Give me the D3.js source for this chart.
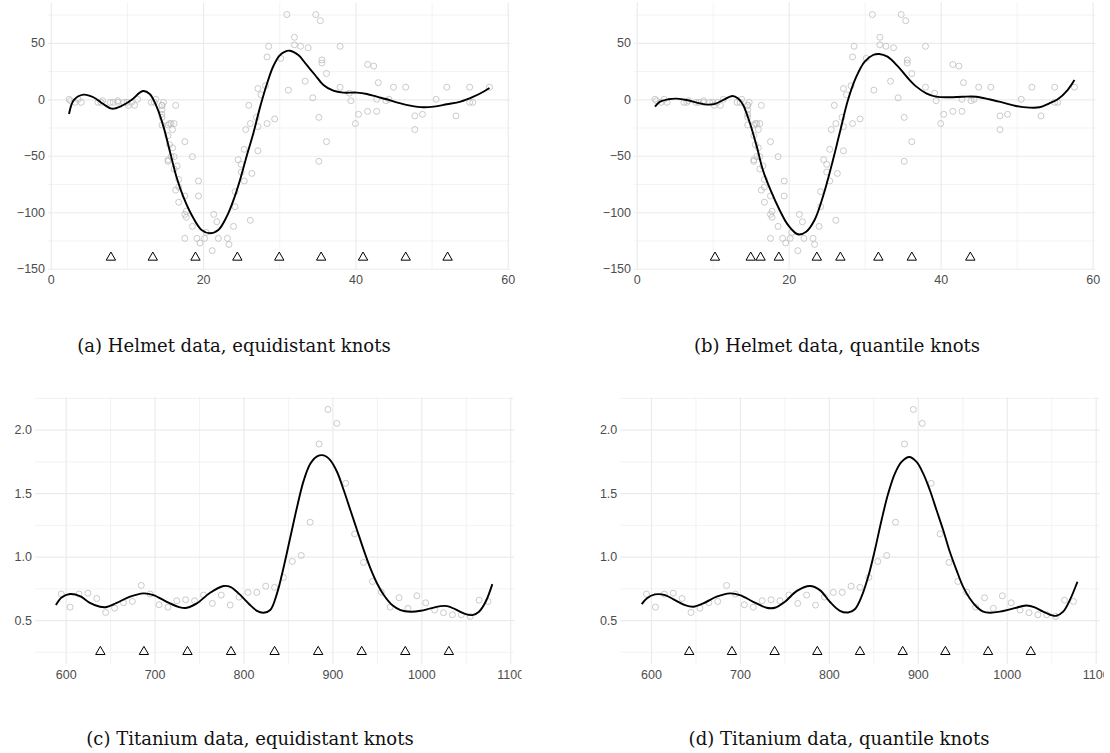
<!DOCTYPE html>
<html>
<head>
<meta charset="utf-8">
<script src="https://cdn.jsdelivr.net/npm/d3@7"></script>
<style>
  body { margin: 0; background: #fff; }
  svg { display: block; }
  .tick text { font-family: "Liberation Sans", Arial, sans-serif; fill: #4d4d4d; }
  .caption { font-family: "DejaVu Serif", serif; fill: #111; }
</style>
</head>
<body>
<svg id="fig" width="1110" height="753"></svg>
<script>
// helmet (mcycle) data
var helmetTime = [2.4,2.6,3.2,3.6,4.0,6.2,6.6,6.8,7.8,8.2,8.8,8.8,9.6,10.0,10.2,10.6,11.0,11.4,13.2,13.6,
  13.8,14.6,14.6,14.6,14.6,14.6,14.6,14.8,15.4,15.4,15.4,15.4,15.6,15.6,15.8,15.8,16.0,16.0,16.2,16.2,
  16.2,16.4,16.4,16.6,16.8,16.8,16.8,17.6,17.6,17.6,17.6,17.8,17.8,18.6,18.6,19.2,19.4,19.4,19.6,20.2,
  20.4,21.2,21.4,21.8,22.0,23.2,23.4,24.0,24.2,24.2,24.6,25.0,25.0,25.4,25.4,25.6,26.0,26.2,26.2,26.4,
  27.0,27.2,27.2,27.2,27.6,28.2,28.4,28.4,28.6,29.4,30.2,31.0,31.2,32.0,32.0,32.8,33.4,33.8,34.4,34.8,
  35.2,35.2,35.4,35.6,35.6,36.2,36.2,38.0,38.0,39.2,39.4,40.0,40.4,41.6,41.6,42.4,42.8,42.8,43.0,44.0,
  44.4,45.0,46.6,47.8,47.8,48.8,50.6,52.0,53.2,55.0,55.0,55.4,57.6];
var helmetAccel = [0.0,-1.3,-2.7,0.0,-2.7,-2.7,-2.7,-1.3,-2.7,-2.7,-1.3,-2.7,-2.7,-2.7,-5.4,-2.7,-5.4,0.0,-2.7,-2.7,
  0.0,-13.3,-5.4,-5.4,-9.3,-16.0,-22.8,-2.7,-22.8,-32.1,-53.5,-54.9,-40.2,-21.5,-21.5,-50.8,-42.9,-26.8,-21.5,-50.8,
  -61.7,-5.4,-80.4,-59.0,-71.0,-91.1,-77.7,-37.5,-85.6,-123.1,-101.9,-99.1,-104.4,-112.5,-50.8,-123.1,-85.6,-72.3,-127.2,-123.1,
  -117.9,-134.0,-101.9,-108.4,-123.1,-123.1,-128.5,-112.5,-95.1,-81.8,-53.5,-64.4,-57.6,-72.3,-44.3,-26.8,-5.4,-107.1,-21.5,-65.6,
  -16.0,-45.6,-24.2,9.5,4.0,12.0,-21.5,37.5,46.9,-17.4,36.2,75.0,8.1,54.9,48.2,46.9,16.0,45.6,1.3,75.0,
  -16.0,-54.9,69.6,34.8,32.1,-37.5,22.8,46.9,10.7,5.4,-1.3,-21.5,-13.3,30.8,-10.7,29.4,0.0,-10.7,14.7,-1.3,
  0.0,10.7,10.7,-26.8,-14.7,-13.3,0.0,10.7,-14.7,-2.7,10.7,-2.7,10.7];

// titanium data
var titanTemp = [595,605,615,625,635,645,655,665,675,685,695,705,715,725,735,745,755,765,775,785,
  795,805,815,825,835,845,855,865,875,885,895,905,915,925,935,945,955,965,975,985,
  995,1005,1015,1025,1035,1045,1055,1065,1075];
var titanY = [0.705,0.602,0.705,0.712,0.670,0.560,0.594,0.636,0.647,0.773,0.705,0.621,0.602,0.652,0.660,0.652,0.697,0.631,0.697,0.618,
  0.681,0.718,0.718,0.767,0.757,0.836,0.962,1.009,1.271,1.887,2.160,2.050,1.578,1.179,0.954,0.804,0.720,0.602,0.676,0.592,
  0.691,0.636,0.579,0.558,0.542,0.542,0.529,0.657,0.647];

// knot positions
var knotsA = [7.9,13.4,19.0,24.5,30.0,35.5,41.0,46.6,52.1];
var knotsB = [10.3,15.0,16.3,18.7,23.7,26.8,31.8,36.2,43.9];
var knotsC = [639,688,737,786,835,884,933,982,1031];
var knotsD = [643,691,739,787,835,883,931,979,1027];
var knotYHelmet = -140;
var knotYTitan = 0.25;

// fitted curves
var fitA = [[2.4,-13],[3.05,-0.6],[4.3,4.1],[5.6,1.8],[6.9,-4.2],[8.0,-8.3],[9.3,-5.9],[10.6,-0.6],[12.1,7.3],[13.0,4.7],
  [13.9,-6.5],[14.8,-24.2],[15.7,-47.8],[16.5,-68.5],[17.4,-86.2],[18.5,-102.4],[19.8,-115.7],[20.9,-118.6],[22.0,-115.7],[23.1,-103.9],
  [24.0,-89.1],[24.85,-71.4],[25.7,-50.8],[26.6,-30.1],[27.5,-6.5],[28.4,14],[29.2,29],[30.0,38.5],[30.7,42],[31.4,43.0],
  [32.5,39.2],[33.6,30.4],[34.7,21.5],[35.8,12.7],[37.1,7.6],[38.4,5.9],[40.2,5.9],[41.5,4.7],[42.8,2.3],[44.1,0],
  [45.4,-2.7],[47.2,-5.6],[48.9,-7.1],[50.3,-6.5],[52.0,-4.4],[53.8,-2.1],[55.5,2.3],[56.8,6.7],[57.6,10]];
var fitB = [[2.4,-6.5],[3.07,-2.1],[4.16,0],[5.26,0.6],[6.57,-0.6],[7.9,-3.0],[9.2,-4.7],[10.3,-4.1],[11.4,-0.6],[12.6,2.9],
  [13.35,0.6],[14.0,-5],[14.9,-21.2],[15.8,-41.9],[16.6,-62.6],[17.7,-81.8],[18.8,-98],[19.9,-111.2],[21.2,-119.5],[22.3,-117.2],
  [23.4,-106.8],[24.5,-86.2],[25.6,-59.6],[26.7,-30.1],[27.8,-0.6],[28.9,20],[30.0,33.3],[31.1,39.2],[31.9,40.1],[33.0,37.7],
  [34.4,28.9],[35.7,18.6],[36.8,11.2],[38.1,5.3],[39.4,2.3],[41.2,1.8],[42.9,2.3],[44.7,2.3],[46.4,0],[48.2,-3],
  [49.9,-5.9],[51.7,-7.4],[53.0,-7.1],[54.3,-3.6],[55.4,0],[56.7,8.2],[57.6,17]];
var fitC = [[589,0.618],[595.4,0.678],[604.8,0.705],[616.1,0.689],[627.3,0.636],[638.6,0.605],[646.1,0.603],[657.4,0.636],[672.4,0.684],[687.4,0.710],
  [698.7,0.697],[713.7,0.644],[728.7,0.600],[736.2,0.597],[747.5,0.631],[762.5,0.715],[777.6,0.768],[785.1,0.762],[794.5,0.710],[805.7,0.631],
  [815.1,0.573],[822.6,0.558],[830.1,0.579],[837.7,0.710],[845.3,0.920],[852.8,1.156],[860.3,1.392],[867.8,1.601],[875.3,1.733],[882.8,1.790],
  [890.3,1.798],[897.8,1.759],[905.3,1.667],[912.8,1.523],[920.3,1.365],[927.8,1.208],[935.3,1.051],[942.8,0.907],[950.3,0.788],[957.8,0.697],
  [967.2,0.618],[976.6,0.579],[987.9,0.566],[999.2,0.573],[1010.4,0.592],[1021.7,0.610],[1029.2,0.610],[1038.6,0.584],[1048.0,0.552],[1057.4,0.539],
  [1064.9,0.566],[1072.4,0.644],[1079.9,0.783]];
var fitD = [[589.6,0.626],[595.2,0.670],[604.5,0.702],[615.8,0.697],[627.0,0.657],[638.2,0.618],[647.6,0.605],[658.8,0.631],[673.8,0.684],[688.8,0.710],
  [700.0,0.697],[715.0,0.644],[730.0,0.597],[739.3,0.597],[750.6,0.644],[763.7,0.728],[778.7,0.768],[789.9,0.736],[801.1,0.644],[812.4,0.573],
  [821.7,0.560],[829.2,0.585],[836.7,0.684],[844.2,0.841],[851.7,1.051],[859.2,1.287],[866.7,1.497],[874.2,1.654],[881.7,1.746],[890.4,1.785],
  [898.6,1.746],[906.1,1.654],[913.6,1.523],[921.1,1.365],[928.6,1.208],[936.0,1.038],[943.5,0.893],[951.0,0.762],[958.5,0.670],[966.0,0.605],
  [973.5,0.566],[981.0,0.558],[992.3,0.566],[1003.5,0.584],[1014.7,0.605],[1022.2,0.615],[1031.6,0.600],[1041.0,0.566],[1050.3,0.539],[1055.9,0.534],
  [1063.4,0.566],[1070.9,0.657],[1079.5,0.802]];

// ticks
var helmetXMajor = [0,20,40,60], helmetXMinor = [10,30,50];
var helmetYMajor = [-150,-100,-50,0,50], helmetYMinor = [-125,-75,-25,25,75];
var titanXMajor = [600,700,800,900,1000,1100], titanXMinor = [650,750,850,950,1050];
var titanYMajor = [0.5,1.0,1.5,2.0], titanYMinor = [0.25,0.75,1.25,1.75,2.25];

var captions = ["(a) Helmet data, equidistant knots", "(b) Helmet data, quantile knots",
  "(c) Titanium data, equidistant knots", "(d) Titanium data, quantile knots"];

var svg = d3.select("#fig");

var panels = [
  {x0: 48, x1: 510.5, y0: 269.6, y1: 2.4, xd: [-0.36, 60.36], yd: [-150.75, 85.75], clip: [0, 0, 560, 376],
   xs: helmetTime, ys: helmetAccel, fit: fitA, knots: knotsA, ky: knotYHelmet,
   xMaj: helmetXMajor, xMin: helmetXMinor, yMaj: helmetYMajor, yMin: helmetYMinor, yfmt: d3.format("d"),
   cap: captions[0], cx: 234, cy: 352},
  {x0: 634, x1: 1095.4, y0: 269.6, y1: 2.4, xd: [-0.36, 60.36], yd: [-150.75, 85.75], clip: [560, 0, 550, 376],
   xs: helmetTime, ys: helmetAccel, fit: fitB, knots: knotsB, ky: knotYHelmet,
   xMaj: helmetXMajor, xMin: helmetXMinor, yMaj: helmetYMajor, yMin: helmetYMinor, yfmt: d3.format("d"),
   cap: captions[1], cx: 837, cy: 352},
  {x0: 35, x1: 514.2, y0: 663.9, y1: 397.3, xd: [565.5, 1104.5], yd: [0.1545, 2.2555], clip: [0, 376, 521.5, 377],
   xs: titanTemp, ys: titanY, fit: fitC, knots: knotsC, ky: knotYTitan,
   xMaj: titanXMajor, xMin: titanXMinor, yMaj: titanYMajor, yMin: titanYMinor, yfmt: d3.format(".1f"),
   cap: captions[2], cx: 250, cy: 745},
  {x0: 620.3, x1: 1099.7, y0: 663.9, y1: 397.3, xd: [565.5, 1104.5], yd: [0.1545, 2.2555], clip: [560, 376, 544, 377],
   xs: titanTemp, ys: titanY, fit: fitD, knots: knotsD, ky: knotYTitan,
   xMaj: titanXMajor, xMin: titanXMinor, yMaj: titanYMajor, yMin: titanYMinor, yfmt: d3.format(".1f"),
   cap: captions[3], cx: 839, cy: 745}
];

panels.forEach(function(p, i) {
  svg.append("clipPath").attr("id", "clip" + i)
    .append("rect").attr("x", p.clip[0]).attr("y", p.clip[1]).attr("width", p.clip[2]).attr("height", p.clip[3]);

  var g = svg.append("g").attr("clip-path", "url(#clip" + i + ")");
  var x = d3.scaleLinear().domain(p.xd).range([p.x0, p.x1]);
  var y = d3.scaleLinear().domain(p.yd).range([p.y0, p.y1]);
  var h = p.y0 - p.y1, w = p.x1 - p.x0;

  // minor grid
  g.append("g").attr("transform", "translate(0," + p.y0 + ")")
    .call(d3.axisBottom(x).tickValues(p.xMin).tickSize(-h).tickFormat(""))
    .call(s => s.select(".domain").remove())
    .selectAll("line").attr("stroke", "#ebebeb").attr("stroke-width", 0.6);
  g.append("g").attr("transform", "translate(" + p.x0 + ",0)")
    .call(d3.axisLeft(y).tickValues(p.yMin).tickSize(-w).tickFormat(""))
    .call(s => s.select(".domain").remove())
    .selectAll("line").attr("stroke", "#ebebeb").attr("stroke-width", 0.6);
  // major grid
  g.append("g").attr("transform", "translate(0," + p.y0 + ")")
    .call(d3.axisBottom(x).tickValues(p.xMaj).tickSize(-h).tickFormat(""))
    .call(s => s.select(".domain").remove())
    .selectAll("line").attr("stroke", "#ebebeb").attr("stroke-width", 1.2);
  g.append("g").attr("transform", "translate(" + p.x0 + ",0)")
    .call(d3.axisLeft(y).tickValues(p.yMaj).tickSize(-w).tickFormat(""))
    .call(s => s.select(".domain").remove())
    .selectAll("line").attr("stroke", "#ebebeb").attr("stroke-width", 1.2);

  // tick labels
  g.append("g").attr("transform", "translate(0," + p.y0 + ")")
    .call(d3.axisBottom(x).tickValues(p.xMaj).tickSize(0).tickPadding(6).tickFormat(d3.format("d")))
    .call(s => s.select(".domain").remove())
    .selectAll("text").attr("font-size", 12.5);
  g.append("g").attr("transform", "translate(" + p.x0 + ",0)")
    .call(d3.axisLeft(y).tickValues(p.yMaj).tickSize(0).tickPadding(3).tickFormat(p.yfmt))
    .call(s => s.select(".domain").remove())
    .selectAll("text").attr("font-size", 12.5);

  // data points
  g.append("g").selectAll("circle")
    .data(p.xs)
    .enter()
    .append("circle")
    .attr("cx", d => x(d))
    .attr("cy", (d, j) => y(p.ys[j]))
    .attr("r", 3)
    .attr("fill", "none")
    .attr("stroke", "#bdbdbd")
    .attr("stroke-width", 0.8);

  // fitted curve
  var line = d3.line()
    .x(d => x(d[0]))
    .y(d => y(d[1]))
    .curve(d3.curveCatmullRom.alpha(0.5));
  g.append("path")
    .datum(p.fit)
    .attr("d", line)
    .attr("fill", "none")
    .attr("stroke", "#000")
    .attr("stroke-width", 1.9);

  // knots
  var tri = d3.symbol().type(d3.symbolTriangle).size(38);
  g.append("g").selectAll("path")
    .data(p.knots)
    .enter()
    .append("path")
    .attr("d", tri)
    .attr("transform", d => "translate(" + x(d) + "," + y(p.ky) + ")")
    .attr("fill", "none")
    .attr("stroke", "#000")
    .attr("stroke-width", 1);

  // caption
  svg.append("text")
    .attr("class", "caption")
    .attr("x", p.cx)
    .attr("y", p.cy)
    .attr("text-anchor", "middle")
    .attr("font-size", 18)
    .text(p.cap);
});
</script>
</body>
</html>
